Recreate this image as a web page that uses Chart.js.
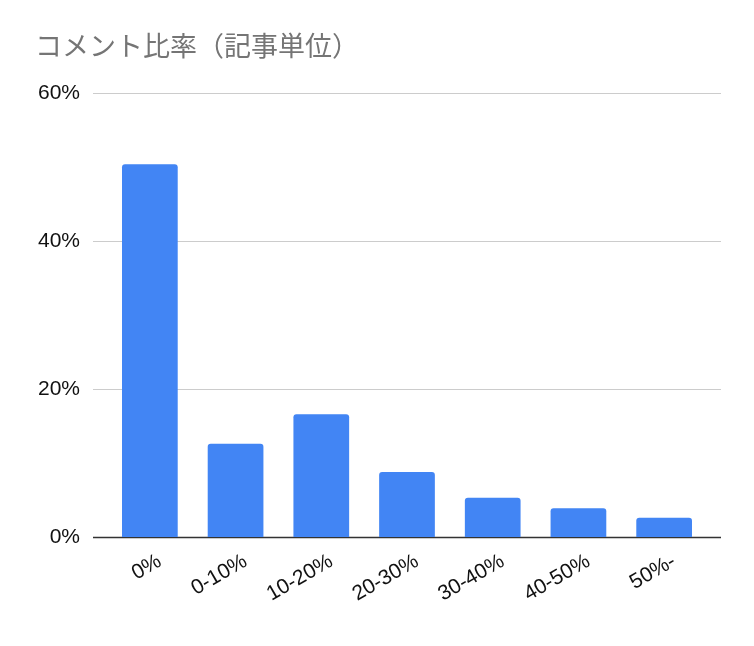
<!DOCTYPE html>
<html>
<head>
<meta charset="utf-8">
<script src="https://cdn.jsdelivr.net/npm/chart.js@4/dist/chart.umd.min.js"></script>
<style>
  html, body { margin: 0; padding: 0; background: #fff; }
  #wrap { width: 754px; height: 646px; }
</style>
</head>
<body>
<div id="wrap"><canvas id="commentChart"></canvas></div>
<script>
// Data
const categories = ['0%', '0-10%', '10-20%', '20-30%', '30-40%', '40-50%', '50%-'];
const ratios = [50.4, 12.6, 16.6, 8.8, 5.3, 3.9, 2.6];
const yTicks = [0, 20, 40, 60];

// Grid lines a bit wider than the category area, like the original
const wideGrid = {
    id: 'wideGrid',
    beforeDatasetsDraw(chart) {
        const ctx = chart.ctx;
        const area = chart.chartArea;
        const y = chart.scales.y;
        const left = area.left - 14;
        const right = area.right + 14;
        ctx.save();
        yTicks.forEach(function(t) {
            const py = Math.round(y.getPixelForValue(t)) + 0.5;
            ctx.beginPath();
            if (t === 0) {
                ctx.strokeStyle = '#333333';
                ctx.lineWidth = 1.5;
            } else {
                ctx.strokeStyle = '#cccccc';
                ctx.lineWidth = 1;
            }
            ctx.moveTo(left, py);
            ctx.lineTo(right, py);
            ctx.stroke();
        });
        ctx.restore();
    }
};

const ctx = document.getElementById('commentChart').getContext('2d');
const commentChart = new Chart(ctx, {
    type: 'bar',
    data: {
        labels: categories,
        datasets: [{
            label: 'コメント比率',
            data: ratios,
            backgroundColor: '#4285f4',
            borderRadius: { topLeft: 3, topRight: 3 },
            borderSkipped: 'bottom',
            barPercentage: 0.65,
            categoryPercentage: 1.0
        }]
    },
    options: {
        responsive: true,
        maintainAspectRatio: false,
        animation: false,
        layout: {
            padding: { left: 35, right: 47, top: 0, bottom: 35 }
        },
        plugins: {
            legend: { display: false },
            tooltip: { enabled: false },
            title: {
                display: true,
                text: 'コメント比率（記事単位）',
                align: 'start',
                color: '#757575',
                font: { family: '"Noto Sans CJK JP", "Noto Sans", sans-serif', size: 27, weight: 'normal' },
                padding: { top: 30, bottom: 31 }
            }
        },
        scales: {
            x: {
                grid: { display: false },
                border: { display: false },
                ticks: {
                    color: '#111111',
                    font: { family: '"Liberation Sans", Arial, sans-serif', size: 21 },
                    minRotation: 30,
                    maxRotation: 30,
                    padding: 4,
                    labelOffset: 10
                }
            },
            y: {
                min: 0,
                max: 60,
                grid: { display: false },
                border: { display: false },
                afterFit: function(scale) { scale.width = 72; },
                ticks: {
                    stepSize: 20,
                    color: '#111111',
                    font: { family: '"Liberation Sans", Arial, sans-serif', size: 21 },
                    padding: 19,
                    callback: function(v) { return v + '%'; }
                }
            }
        }
    },
    plugins: [wideGrid]
});
</script>
</body>
</html>
